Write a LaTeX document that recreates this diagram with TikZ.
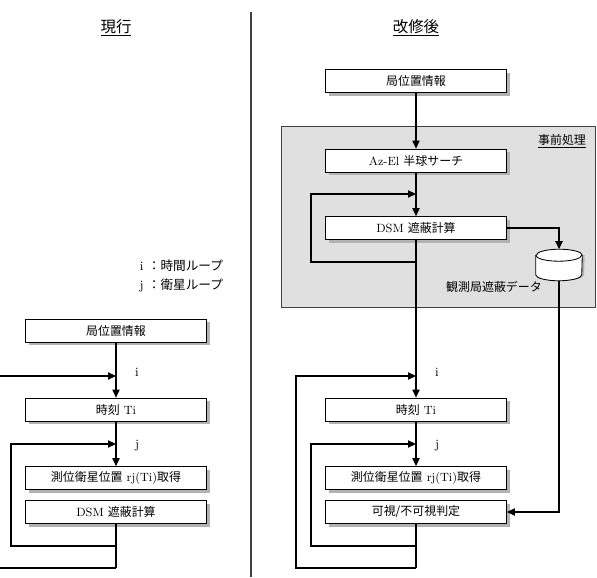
\documentclass[tikz,border=0pt]{standalone}
\usepackage{fontspec}
\newfontfamily\jp{Noto Sans CJK JP}
\usetikzlibrary{arrows.meta,positioning,shapes.geometric,shadows}

\begin{document}
\begin{tikzpicture}[
    box/.style={draw, line width=0.5pt, fill=white, minimum width=4.525cm, minimum height=0.575cm, inner sep=1pt, font=\fontsize{8.5}{10}\selectfont, drop shadow={shadow xshift=0.08cm, shadow yshift=-0.08cm, fill=black!30, opacity=1}},
    arrow/.style={-{Triangle[length=0.2cm, width=0.18cm]}, line width=0.9pt},
    line/.style={line width=0.9pt},
    title/.style={font=\fontsize{11}{13}\selectfont\jp},
    note/.style={font=\fontsize{9}{11}\selectfont},
    region/.style={draw=black!75, line width=0.7pt, fill=black!12},
    drum/.style={line width=0.6pt, fill=white}
  ]
    \useasboundingbox (0,0) rectangle (14.925,14.425);

    % divider and titles
    \draw[line width=0.8pt, black!75] (6.275,14.125) -- (6.275,0);
    \node[title] (tcur) at (2.9,13.725) {\underline{現行}};
    \node[title] (tnew) at (10.4,13.725) {\underline{改修後}};

    \node[note, anchor=east] (li) at (5.7,7.775) {i {\jp ：時間ループ}};
    \node[note, anchor=east] (lj) at (5.7,7.3) {j {\jp ：衛星ループ}};

    % current
    \node[box] (loc)  at (2.9,6.1625) {\jp 局位置情報};
    \node[box] (time) at (2.9,4.1875) {{\jp 時刻} Ti};
    \node[box] (sat)  at (2.9,2.475)  {{\jp 測位衛星位置} rj(Ti){\jp 取得}};
    \node[box] (dsm)  at (2.9,1.625)  {DSM {\jp 遮蔽計算}};

    \coordinate (ii) at (2.9,5.025);
    \coordinate (jj) at (2.9,3.325);
    \coordinate (jb) at (2.9,0.775);
    \coordinate (ib) at (2.9,0.225);

    \draw[arrow] (loc) -- (time);
    \draw[arrow] (time) -- (sat);
    \draw[line] (dsm.south) -- (ib);
    \draw[arrow] (jb) -| (0.275,3.325) -- (jj);
    \draw[arrow] (ib) -| (-0.1,5.025) -- (ii);
    \node[note] at (3.425,5.125) {i};
    \node[note] at (3.425,3.275) {j};

    % revised
    \node[region, minimum width=7.85cm, minimum height=4.525cm] (pre) at (10.95,9.0125) {};
    \node[note, font=\fontsize{8.5}{10}\selectfont\jp] (prel) at (14.05,10.9) {\underline{事前処理}};

    \node[box] (rloc)  at (10.4,12.4)    {\jp 局位置情報};
    \node[box] (azel)  at (10.4,10.4125) {Az-El {\jp 半球サーチ}};
    \node[box] (rdsm)  at (10.4,8.725)   {DSM {\jp 遮蔽計算}};
    \node[box] (rtime) at (10.4,4.1875)  {{\jp 時刻} Ti};
    \node[box] (rsat)  at (10.4,2.475)   {{\jp 測位衛星位置} rj(Ti){\jp 取得}};
    \node[box] (vis)   at (10.4,1.625)   {\jp 可視/不可視判定};

    % database drum
    \node[minimum width=1.15cm, minimum height=0.775cm, inner sep=0pt] (db) at (13.975,7.8) {};
    \fill[black!30] ([xshift=0.06cm,yshift=-0.15cm]db.north west) -- ([xshift=0.06cm,yshift=0.15cm]db.south west)
        arc[start angle=180, end angle=360, x radius=0.575cm, y radius=0.15cm]
        -- ([xshift=0.06cm,yshift=-0.15cm]db.north east) -- cycle;
    \draw[drum] ([yshift=-0.15cm]db.north west) -- ([yshift=0.15cm]db.south west)
        arc[start angle=180, end angle=360, x radius=0.575cm, y radius=0.15cm]
        -- ([yshift=-0.15cm]db.north east)
        arc[start angle=0, end angle=180, x radius=0.575cm, y radius=0.15cm] -- cycle;
    \draw[line width=0.6pt] ([yshift=-0.15cm]db.north west)
        arc[start angle=180, end angle=360, x radius=0.575cm, y radius=0.15cm];
    \node[note, font=\fontsize{8.5}{10}\selectfont\jp] (dbl) at (12.35,7.25) {観測局遮蔽データ};

    \coordinate (kk) at (10.4,9.575);
    \coordinate (kb) at (10.4,7.875);
    \coordinate (rii) at (10.4,5.025);
    \coordinate (rjj) at (10.4,3.325);
    \coordinate (rjb) at (10.4,0.775);
    \coordinate (rib) at (10.4,0.225);

    \draw[arrow] (rloc) -- (azel);
    \draw[line] (azel) -- (kk);
    \draw[arrow] (kk) -- (rdsm);
    \draw[arrow] (kb) -| (7.775,9.575) -- (kk);
    \draw[arrow] (rdsm) -- (rtime);
    \draw[arrow] (rdsm.east) -| (db.north);
    \draw[arrow] (db.south) |- (vis.east);
    \draw[arrow] (rtime) -- (rsat);
    \draw[line] (vis.south) -- (rib);
    \draw[arrow] (rjb) -| (7.775,3.325) -- (rjj);
    \draw[arrow] (rib) -| (7.4,5.025) -- (rii);
    \node[note] at (10.925,5.125) {i};
    \node[note] at (10.925,3.275) {j};
\end{tikzpicture}
\end{document}
